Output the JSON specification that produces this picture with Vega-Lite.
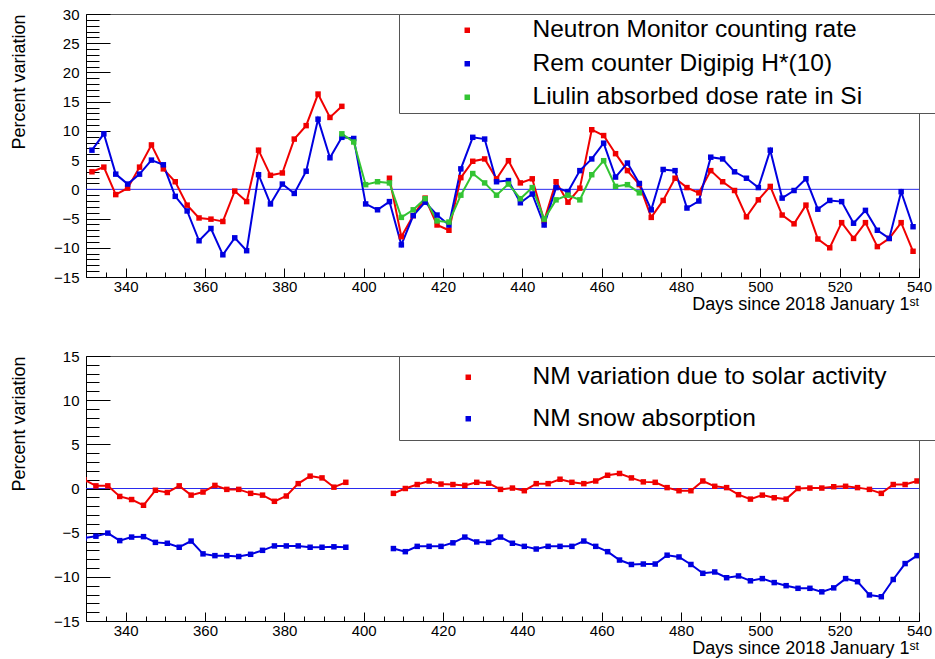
{
  "$schema": "https://vega.github.io/schema/vega-lite/v6.json",
  "background": "white",
  "padding": {"left": 10, "top": 6, "right": 5, "bottom": 5},
  "autosize": {"type": "pad"},
  "spacing": 79,
  "bounds": "flush",
  "resolve": {"scale": {"color": "independent", "stroke": "independent"}, "legend": {"color": "independent", "stroke": "independent"}},
  "config": {
    "font": "Liberation Sans",
    "view": {"stroke": "#555555", "strokeWidth": 1},
    "axis": {"grid": false, "domainColor": "#000000", "tickColor": "#000000", "labelColor": "#000000", "titleColor": "#000000", "labelFontSize": 15, "titleFontSize": 18, "titleFontWeight": "normal", "labelFont": "Liberation Sans", "titleFont": "Liberation Sans", "labelOverlap": false, "labelFlush": false}
  },
  "datasets": {
    "top": [
      {"day":331.5,"series":"Neutron Monitor counting rate","part":1,"value":3.0},
      {"day":334.5,"series":"Neutron Monitor counting rate","part":1,"value":3.8},
      {"day":337.5,"series":"Neutron Monitor counting rate","part":1,"value":-0.9},
      {"day":340.5,"series":"Neutron Monitor counting rate","part":1,"value":0.2},
      {"day":343.5,"series":"Neutron Monitor counting rate","part":1,"value":3.8},
      {"day":346.5,"series":"Neutron Monitor counting rate","part":1,"value":7.6},
      {"day":349.5,"series":"Neutron Monitor counting rate","part":1,"value":3.5},
      {"day":352.5,"series":"Neutron Monitor counting rate","part":1,"value":1.3},
      {"day":355.5,"series":"Neutron Monitor counting rate","part":1,"value":-2.7},
      {"day":358.5,"series":"Neutron Monitor counting rate","part":1,"value":-4.9},
      {"day":361.5,"series":"Neutron Monitor counting rate","part":1,"value":-5.1},
      {"day":364.5,"series":"Neutron Monitor counting rate","part":1,"value":-5.5},
      {"day":367.5,"series":"Neutron Monitor counting rate","part":1,"value":-0.3},
      {"day":370.5,"series":"Neutron Monitor counting rate","part":1,"value":-2.1},
      {"day":373.5,"series":"Neutron Monitor counting rate","part":1,"value":6.7},
      {"day":376.5,"series":"Neutron Monitor counting rate","part":1,"value":2.4},
      {"day":379.5,"series":"Neutron Monitor counting rate","part":1,"value":2.8},
      {"day":382.5,"series":"Neutron Monitor counting rate","part":1,"value":8.6},
      {"day":385.5,"series":"Neutron Monitor counting rate","part":1,"value":10.9},
      {"day":388.5,"series":"Neutron Monitor counting rate","part":1,"value":16.3},
      {"day":391.5,"series":"Neutron Monitor counting rate","part":1,"value":12.3},
      {"day":394.5,"series":"Neutron Monitor counting rate","part":1,"value":14.2},
      {"day":406.5,"series":"Neutron Monitor counting rate","part":2,"value":1.9},
      {"day":409.5,"series":"Neutron Monitor counting rate","part":2,"value":-8.1},
      {"day":412.5,"series":"Neutron Monitor counting rate","part":2,"value":-4.5},
      {"day":415.5,"series":"Neutron Monitor counting rate","part":2,"value":-1.5},
      {"day":418.5,"series":"Neutron Monitor counting rate","part":2,"value":-6.1},
      {"day":421.5,"series":"Neutron Monitor counting rate","part":2,"value":-7.0},
      {"day":424.5,"series":"Neutron Monitor counting rate","part":2,"value":2.0},
      {"day":427.5,"series":"Neutron Monitor counting rate","part":2,"value":4.8},
      {"day":430.5,"series":"Neutron Monitor counting rate","part":2,"value":5.2},
      {"day":433.5,"series":"Neutron Monitor counting rate","part":2,"value":1.8},
      {"day":436.5,"series":"Neutron Monitor counting rate","part":2,"value":4.9},
      {"day":439.5,"series":"Neutron Monitor counting rate","part":2,"value":1.1},
      {"day":442.5,"series":"Neutron Monitor counting rate","part":2,"value":1.8},
      {"day":445.5,"series":"Neutron Monitor counting rate","part":2,"value":-5.4},
      {"day":448.5,"series":"Neutron Monitor counting rate","part":2,"value":1.3},
      {"day":451.5,"series":"Neutron Monitor counting rate","part":2,"value":-2.2},
      {"day":454.5,"series":"Neutron Monitor counting rate","part":2,"value":0.2},
      {"day":457.5,"series":"Neutron Monitor counting rate","part":2,"value":10.2},
      {"day":460.5,"series":"Neutron Monitor counting rate","part":2,"value":9.2},
      {"day":463.5,"series":"Neutron Monitor counting rate","part":2,"value":6.1},
      {"day":466.5,"series":"Neutron Monitor counting rate","part":2,"value":3.2},
      {"day":469.5,"series":"Neutron Monitor counting rate","part":2,"value":0.8},
      {"day":472.5,"series":"Neutron Monitor counting rate","part":2,"value":-4.8},
      {"day":475.5,"series":"Neutron Monitor counting rate","part":2,"value":-1.9},
      {"day":478.5,"series":"Neutron Monitor counting rate","part":2,"value":1.9},
      {"day":481.5,"series":"Neutron Monitor counting rate","part":2,"value":0.3},
      {"day":484.5,"series":"Neutron Monitor counting rate","part":2,"value":-0.6},
      {"day":487.5,"series":"Neutron Monitor counting rate","part":2,"value":3.2},
      {"day":490.5,"series":"Neutron Monitor counting rate","part":2,"value":1.3},
      {"day":493.5,"series":"Neutron Monitor counting rate","part":2,"value":-0.2},
      {"day":496.5,"series":"Neutron Monitor counting rate","part":2,"value":-4.7},
      {"day":499.5,"series":"Neutron Monitor counting rate","part":2,"value":-1.8},
      {"day":502.5,"series":"Neutron Monitor counting rate","part":2,"value":0.5},
      {"day":505.5,"series":"Neutron Monitor counting rate","part":2,"value":-4.4},
      {"day":508.5,"series":"Neutron Monitor counting rate","part":2,"value":-5.9},
      {"day":511.5,"series":"Neutron Monitor counting rate","part":2,"value":-2.7},
      {"day":514.5,"series":"Neutron Monitor counting rate","part":2,"value":-8.5},
      {"day":517.5,"series":"Neutron Monitor counting rate","part":2,"value":-10.0},
      {"day":520.5,"series":"Neutron Monitor counting rate","part":2,"value":-5.7},
      {"day":523.5,"series":"Neutron Monitor counting rate","part":2,"value":-8.4},
      {"day":526.5,"series":"Neutron Monitor counting rate","part":2,"value":-5.7},
      {"day":529.5,"series":"Neutron Monitor counting rate","part":2,"value":-9.8},
      {"day":532.5,"series":"Neutron Monitor counting rate","part":2,"value":-8.4},
      {"day":535.5,"series":"Neutron Monitor counting rate","part":2,"value":-5.7},
      {"day":538.5,"series":"Neutron Monitor counting rate","part":2,"value":-10.6},
      {"day":331.5,"series":"Rem counter Digipig H*(10)","part":1,"value":6.7},
      {"day":334.5,"series":"Rem counter Digipig H*(10)","part":1,"value":9.5},
      {"day":337.5,"series":"Rem counter Digipig H*(10)","part":1,"value":2.6},
      {"day":340.5,"series":"Rem counter Digipig H*(10)","part":1,"value":0.9},
      {"day":343.5,"series":"Rem counter Digipig H*(10)","part":1,"value":2.6},
      {"day":346.5,"series":"Rem counter Digipig H*(10)","part":1,"value":5.0},
      {"day":349.5,"series":"Rem counter Digipig H*(10)","part":1,"value":4.2},
      {"day":352.5,"series":"Rem counter Digipig H*(10)","part":1,"value":-1.2},
      {"day":355.5,"series":"Rem counter Digipig H*(10)","part":1,"value":-3.7},
      {"day":358.5,"series":"Rem counter Digipig H*(10)","part":1,"value":-8.8},
      {"day":361.5,"series":"Rem counter Digipig H*(10)","part":1,"value":-6.7},
      {"day":364.5,"series":"Rem counter Digipig H*(10)","part":1,"value":-11.2},
      {"day":367.5,"series":"Rem counter Digipig H*(10)","part":1,"value":-8.3},
      {"day":370.5,"series":"Rem counter Digipig H*(10)","part":1,"value":-10.5},
      {"day":373.5,"series":"Rem counter Digipig H*(10)","part":1,"value":2.5},
      {"day":376.5,"series":"Rem counter Digipig H*(10)","part":1,"value":-2.5},
      {"day":379.5,"series":"Rem counter Digipig H*(10)","part":1,"value":0.9},
      {"day":382.5,"series":"Rem counter Digipig H*(10)","part":1,"value":-0.7},
      {"day":385.5,"series":"Rem counter Digipig H*(10)","part":1,"value":3.1},
      {"day":388.5,"series":"Rem counter Digipig H*(10)","part":1,"value":12.0},
      {"day":391.5,"series":"Rem counter Digipig H*(10)","part":1,"value":5.4},
      {"day":394.5,"series":"Rem counter Digipig H*(10)","part":1,"value":8.9},
      {"day":397.5,"series":"Rem counter Digipig H*(10)","part":1,"value":8.7},
      {"day":400.5,"series":"Rem counter Digipig H*(10)","part":1,"value":-2.5},
      {"day":403.5,"series":"Rem counter Digipig H*(10)","part":1,"value":-3.5},
      {"day":406.5,"series":"Rem counter Digipig H*(10)","part":1,"value":-2.1},
      {"day":409.5,"series":"Rem counter Digipig H*(10)","part":1,"value":-9.5},
      {"day":412.5,"series":"Rem counter Digipig H*(10)","part":1,"value":-4.5},
      {"day":415.5,"series":"Rem counter Digipig H*(10)","part":1,"value":-2.2},
      {"day":418.5,"series":"Rem counter Digipig H*(10)","part":1,"value":-4.4},
      {"day":421.5,"series":"Rem counter Digipig H*(10)","part":1,"value":-6.1},
      {"day":424.5,"series":"Rem counter Digipig H*(10)","part":1,"value":3.5},
      {"day":427.5,"series":"Rem counter Digipig H*(10)","part":1,"value":8.9},
      {"day":430.5,"series":"Rem counter Digipig H*(10)","part":1,"value":8.6},
      {"day":433.5,"series":"Rem counter Digipig H*(10)","part":1,"value":1.3},
      {"day":436.5,"series":"Rem counter Digipig H*(10)","part":1,"value":1.5},
      {"day":439.5,"series":"Rem counter Digipig H*(10)","part":1,"value":-2.3},
      {"day":442.5,"series":"Rem counter Digipig H*(10)","part":1,"value":-0.8},
      {"day":445.5,"series":"Rem counter Digipig H*(10)","part":1,"value":-6.1},
      {"day":448.5,"series":"Rem counter Digipig H*(10)","part":1,"value":0.3},
      {"day":451.5,"series":"Rem counter Digipig H*(10)","part":1,"value":-0.4},
      {"day":454.5,"series":"Rem counter Digipig H*(10)","part":1,"value":3.2},
      {"day":457.5,"series":"Rem counter Digipig H*(10)","part":1,"value":5.2},
      {"day":460.5,"series":"Rem counter Digipig H*(10)","part":1,"value":7.9},
      {"day":463.5,"series":"Rem counter Digipig H*(10)","part":1,"value":2.1},
      {"day":466.5,"series":"Rem counter Digipig H*(10)","part":1,"value":4.5},
      {"day":469.5,"series":"Rem counter Digipig H*(10)","part":1,"value":1.0},
      {"day":472.5,"series":"Rem counter Digipig H*(10)","part":1,"value":-3.5},
      {"day":475.5,"series":"Rem counter Digipig H*(10)","part":1,"value":3.4},
      {"day":478.5,"series":"Rem counter Digipig H*(10)","part":1,"value":3.2},
      {"day":481.5,"series":"Rem counter Digipig H*(10)","part":1,"value":-3.2},
      {"day":484.5,"series":"Rem counter Digipig H*(10)","part":1,"value":-2.0},
      {"day":487.5,"series":"Rem counter Digipig H*(10)","part":1,"value":5.5},
      {"day":490.5,"series":"Rem counter Digipig H*(10)","part":1,"value":5.2},
      {"day":493.5,"series":"Rem counter Digipig H*(10)","part":1,"value":3.0},
      {"day":496.5,"series":"Rem counter Digipig H*(10)","part":1,"value":1.9},
      {"day":499.5,"series":"Rem counter Digipig H*(10)","part":1,"value":0.3},
      {"day":502.5,"series":"Rem counter Digipig H*(10)","part":1,"value":6.7},
      {"day":505.5,"series":"Rem counter Digipig H*(10)","part":1,"value":-1.5},
      {"day":508.5,"series":"Rem counter Digipig H*(10)","part":1,"value":-0.2},
      {"day":511.5,"series":"Rem counter Digipig H*(10)","part":1,"value":1.8},
      {"day":514.5,"series":"Rem counter Digipig H*(10)","part":1,"value":-3.4},
      {"day":517.5,"series":"Rem counter Digipig H*(10)","part":1,"value":-1.9},
      {"day":520.5,"series":"Rem counter Digipig H*(10)","part":1,"value":-2.1},
      {"day":523.5,"series":"Rem counter Digipig H*(10)","part":1,"value":-5.8},
      {"day":526.5,"series":"Rem counter Digipig H*(10)","part":1,"value":-3.6},
      {"day":529.5,"series":"Rem counter Digipig H*(10)","part":1,"value":-7.0},
      {"day":532.5,"series":"Rem counter Digipig H*(10)","part":1,"value":-8.4},
      {"day":535.5,"series":"Rem counter Digipig H*(10)","part":1,"value":-0.4},
      {"day":538.5,"series":"Rem counter Digipig H*(10)","part":1,"value":-6.4},
      {"day":394.5,"series":"Liulin absorbed dose rate in Si","part":1,"value":9.5},
      {"day":397.5,"series":"Liulin absorbed dose rate in Si","part":1,"value":8.1},
      {"day":400.5,"series":"Liulin absorbed dose rate in Si","part":1,"value":0.8},
      {"day":403.5,"series":"Liulin absorbed dose rate in Si","part":1,"value":1.3},
      {"day":406.5,"series":"Liulin absorbed dose rate in Si","part":1,"value":1.1},
      {"day":409.5,"series":"Liulin absorbed dose rate in Si","part":1,"value":-4.8},
      {"day":412.5,"series":"Liulin absorbed dose rate in Si","part":1,"value":-3.5},
      {"day":415.5,"series":"Liulin absorbed dose rate in Si","part":1,"value":-1.6},
      {"day":418.5,"series":"Liulin absorbed dose rate in Si","part":1,"value":-5.4},
      {"day":421.5,"series":"Liulin absorbed dose rate in Si","part":1,"value":-5.6},
      {"day":424.5,"series":"Liulin absorbed dose rate in Si","part":1,"value":-1.0},
      {"day":427.5,"series":"Liulin absorbed dose rate in Si","part":1,"value":2.7},
      {"day":430.5,"series":"Liulin absorbed dose rate in Si","part":1,"value":1.1},
      {"day":433.5,"series":"Liulin absorbed dose rate in Si","part":1,"value":-1.0},
      {"day":436.5,"series":"Liulin absorbed dose rate in Si","part":1,"value":0.9},
      {"day":439.5,"series":"Liulin absorbed dose rate in Si","part":1,"value":-1.6},
      {"day":442.5,"series":"Liulin absorbed dose rate in Si","part":1,"value":0.3},
      {"day":445.5,"series":"Liulin absorbed dose rate in Si","part":1,"value":-5.1},
      {"day":448.5,"series":"Liulin absorbed dose rate in Si","part":1,"value":-1.8},
      {"day":451.5,"series":"Liulin absorbed dose rate in Si","part":1,"value":-1.0},
      {"day":454.5,"series":"Liulin absorbed dose rate in Si","part":1,"value":-1.8},
      {"day":457.5,"series":"Liulin absorbed dose rate in Si","part":1,"value":2.5},
      {"day":460.5,"series":"Liulin absorbed dose rate in Si","part":1,"value":4.9},
      {"day":463.5,"series":"Liulin absorbed dose rate in Si","part":1,"value":0.5},
      {"day":466.5,"series":"Liulin absorbed dose rate in Si","part":1,"value":0.8},
      {"day":469.5,"series":"Liulin absorbed dose rate in Si","part":1,"value":-0.6}
    ],
    "bottom": [
      {"day":329.5,"series":"NM variation due to solar activity","part":1,"value":1.0},
      {"day":332.5,"series":"NM variation due to solar activity","part":1,"value":0.3},
      {"day":335.5,"series":"NM variation due to solar activity","part":1,"value":0.3},
      {"day":338.5,"series":"NM variation due to solar activity","part":1,"value":-0.9},
      {"day":341.5,"series":"NM variation due to solar activity","part":1,"value":-1.25},
      {"day":344.5,"series":"NM variation due to solar activity","part":1,"value":-1.9},
      {"day":347.5,"series":"NM variation due to solar activity","part":1,"value":-0.2},
      {"day":350.5,"series":"NM variation due to solar activity","part":1,"value":-0.45},
      {"day":353.5,"series":"NM variation due to solar activity","part":1,"value":0.3},
      {"day":356.5,"series":"NM variation due to solar activity","part":1,"value":-0.75},
      {"day":359.5,"series":"NM variation due to solar activity","part":1,"value":-0.4},
      {"day":362.5,"series":"NM variation due to solar activity","part":1,"value":0.35},
      {"day":365.5,"series":"NM variation due to solar activity","part":1,"value":-0.1},
      {"day":368.5,"series":"NM variation due to solar activity","part":1,"value":-0.1},
      {"day":371.5,"series":"NM variation due to solar activity","part":1,"value":-0.55},
      {"day":374.5,"series":"NM variation due to solar activity","part":1,"value":-0.75},
      {"day":377.5,"series":"NM variation due to solar activity","part":1,"value":-1.45},
      {"day":380.5,"series":"NM variation due to solar activity","part":1,"value":-0.85},
      {"day":383.5,"series":"NM variation due to solar activity","part":1,"value":0.55},
      {"day":386.5,"series":"NM variation due to solar activity","part":1,"value":1.4},
      {"day":389.5,"series":"NM variation due to solar activity","part":1,"value":1.2},
      {"day":392.5,"series":"NM variation due to solar activity","part":1,"value":0.15},
      {"day":395.5,"series":"NM variation due to solar activity","part":1,"value":0.7},
      {"day":407.5,"series":"NM variation due to solar activity","part":2,"value":-0.55},
      {"day":410.5,"series":"NM variation due to solar activity","part":2,"value":0.0},
      {"day":413.5,"series":"NM variation due to solar activity","part":2,"value":0.45},
      {"day":416.5,"series":"NM variation due to solar activity","part":2,"value":0.85},
      {"day":419.5,"series":"NM variation due to solar activity","part":2,"value":0.5},
      {"day":422.5,"series":"NM variation due to solar activity","part":2,"value":0.45},
      {"day":425.5,"series":"NM variation due to solar activity","part":2,"value":0.35},
      {"day":428.5,"series":"NM variation due to solar activity","part":2,"value":0.7},
      {"day":431.5,"series":"NM variation due to solar activity","part":2,"value":0.6},
      {"day":434.5,"series":"NM variation due to solar activity","part":2,"value":-0.1},
      {"day":437.5,"series":"NM variation due to solar activity","part":2,"value":0.05},
      {"day":440.5,"series":"NM variation due to solar activity","part":2,"value":-0.25},
      {"day":443.5,"series":"NM variation due to solar activity","part":2,"value":0.55},
      {"day":446.5,"series":"NM variation due to solar activity","part":2,"value":0.55},
      {"day":449.5,"series":"NM variation due to solar activity","part":2,"value":1.05},
      {"day":452.5,"series":"NM variation due to solar activity","part":2,"value":0.7},
      {"day":455.5,"series":"NM variation due to solar activity","part":2,"value":0.55},
      {"day":458.5,"series":"NM variation due to solar activity","part":2,"value":0.85},
      {"day":461.5,"series":"NM variation due to solar activity","part":2,"value":1.5},
      {"day":464.5,"series":"NM variation due to solar activity","part":2,"value":1.7},
      {"day":467.5,"series":"NM variation due to solar activity","part":2,"value":1.2},
      {"day":470.5,"series":"NM variation due to solar activity","part":2,"value":0.75},
      {"day":473.5,"series":"NM variation due to solar activity","part":2,"value":0.7},
      {"day":476.5,"series":"NM variation due to solar activity","part":2,"value":0.1},
      {"day":479.5,"series":"NM variation due to solar activity","part":2,"value":-0.25},
      {"day":482.5,"series":"NM variation due to solar activity","part":2,"value":-0.25},
      {"day":485.5,"series":"NM variation due to solar activity","part":2,"value":0.85},
      {"day":488.5,"series":"NM variation due to solar activity","part":2,"value":0.25},
      {"day":491.5,"series":"NM variation due to solar activity","part":2,"value":0.1},
      {"day":494.5,"series":"NM variation due to solar activity","part":2,"value":-0.7},
      {"day":497.5,"series":"NM variation due to solar activity","part":2,"value":-1.2},
      {"day":500.5,"series":"NM variation due to solar activity","part":2,"value":-0.75},
      {"day":503.5,"series":"NM variation due to solar activity","part":2,"value":-1.05},
      {"day":506.5,"series":"NM variation due to solar activity","part":2,"value":-1.2},
      {"day":509.5,"series":"NM variation due to solar activity","part":2,"value":0.0},
      {"day":512.5,"series":"NM variation due to solar activity","part":2,"value":0.05},
      {"day":515.5,"series":"NM variation due to solar activity","part":2,"value":0.05},
      {"day":518.5,"series":"NM variation due to solar activity","part":2,"value":0.2},
      {"day":521.5,"series":"NM variation due to solar activity","part":2,"value":0.25},
      {"day":524.5,"series":"NM variation due to solar activity","part":2,"value":0.1},
      {"day":527.5,"series":"NM variation due to solar activity","part":2,"value":-0.1},
      {"day":530.5,"series":"NM variation due to solar activity","part":2,"value":-0.55},
      {"day":533.5,"series":"NM variation due to solar activity","part":2,"value":0.45},
      {"day":536.5,"series":"NM variation due to solar activity","part":2,"value":0.45},
      {"day":539.5,"series":"NM variation due to solar activity","part":2,"value":0.85},
      {"day":329.5,"series":"NM snow absorption","part":1,"value":-5.6},
      {"day":332.5,"series":"NM snow absorption","part":1,"value":-5.4},
      {"day":335.5,"series":"NM snow absorption","part":1,"value":-5.05},
      {"day":338.5,"series":"NM snow absorption","part":1,"value":-5.9},
      {"day":341.5,"series":"NM snow absorption","part":1,"value":-5.5},
      {"day":344.5,"series":"NM snow absorption","part":1,"value":-5.45},
      {"day":347.5,"series":"NM snow absorption","part":1,"value":-6.1},
      {"day":350.5,"series":"NM snow absorption","part":1,"value":-6.2},
      {"day":353.5,"series":"NM snow absorption","part":1,"value":-6.65},
      {"day":356.5,"series":"NM snow absorption","part":1,"value":-5.95},
      {"day":359.5,"series":"NM snow absorption","part":1,"value":-7.4},
      {"day":362.5,"series":"NM snow absorption","part":1,"value":-7.6},
      {"day":365.5,"series":"NM snow absorption","part":1,"value":-7.6},
      {"day":368.5,"series":"NM snow absorption","part":1,"value":-7.7},
      {"day":371.5,"series":"NM snow absorption","part":1,"value":-7.45},
      {"day":374.5,"series":"NM snow absorption","part":1,"value":-7.0},
      {"day":377.5,"series":"NM snow absorption","part":1,"value":-6.5},
      {"day":380.5,"series":"NM snow absorption","part":1,"value":-6.5},
      {"day":383.5,"series":"NM snow absorption","part":1,"value":-6.5},
      {"day":386.5,"series":"NM snow absorption","part":1,"value":-6.65},
      {"day":389.5,"series":"NM snow absorption","part":1,"value":-6.65},
      {"day":392.5,"series":"NM snow absorption","part":1,"value":-6.6},
      {"day":395.5,"series":"NM snow absorption","part":1,"value":-6.65},
      {"day":407.5,"series":"NM snow absorption","part":2,"value":-6.8},
      {"day":410.5,"series":"NM snow absorption","part":2,"value":-7.15},
      {"day":413.5,"series":"NM snow absorption","part":2,"value":-6.55},
      {"day":416.5,"series":"NM snow absorption","part":2,"value":-6.55},
      {"day":419.5,"series":"NM snow absorption","part":2,"value":-6.55},
      {"day":422.5,"series":"NM snow absorption","part":2,"value":-6.15},
      {"day":425.5,"series":"NM snow absorption","part":2,"value":-5.5},
      {"day":428.5,"series":"NM snow absorption","part":2,"value":-6.05},
      {"day":431.5,"series":"NM snow absorption","part":2,"value":-6.1},
      {"day":434.5,"series":"NM snow absorption","part":2,"value":-5.5},
      {"day":437.5,"series":"NM snow absorption","part":2,"value":-6.2},
      {"day":440.5,"series":"NM snow absorption","part":2,"value":-6.55},
      {"day":443.5,"series":"NM snow absorption","part":2,"value":-6.85},
      {"day":446.5,"series":"NM snow absorption","part":2,"value":-6.55},
      {"day":449.5,"series":"NM snow absorption","part":2,"value":-6.55},
      {"day":452.5,"series":"NM snow absorption","part":2,"value":-6.55},
      {"day":455.5,"series":"NM snow absorption","part":2,"value":-5.95},
      {"day":458.5,"series":"NM snow absorption","part":2,"value":-6.55},
      {"day":461.5,"series":"NM snow absorption","part":2,"value":-7.15},
      {"day":464.5,"series":"NM snow absorption","part":2,"value":-8.1},
      {"day":467.5,"series":"NM snow absorption","part":2,"value":-8.6},
      {"day":470.5,"series":"NM snow absorption","part":2,"value":-8.55},
      {"day":473.5,"series":"NM snow absorption","part":2,"value":-8.55},
      {"day":476.5,"series":"NM snow absorption","part":2,"value":-7.55},
      {"day":479.5,"series":"NM snow absorption","part":2,"value":-7.75},
      {"day":482.5,"series":"NM snow absorption","part":2,"value":-8.6},
      {"day":485.5,"series":"NM snow absorption","part":2,"value":-9.6},
      {"day":488.5,"series":"NM snow absorption","part":2,"value":-9.45},
      {"day":491.5,"series":"NM snow absorption","part":2,"value":-10.1},
      {"day":494.5,"series":"NM snow absorption","part":2,"value":-9.9},
      {"day":497.5,"series":"NM snow absorption","part":2,"value":-10.45},
      {"day":500.5,"series":"NM snow absorption","part":2,"value":-10.2},
      {"day":503.5,"series":"NM snow absorption","part":2,"value":-10.65},
      {"day":506.5,"series":"NM snow absorption","part":2,"value":-11.0},
      {"day":509.5,"series":"NM snow absorption","part":2,"value":-11.3},
      {"day":512.5,"series":"NM snow absorption","part":2,"value":-11.3},
      {"day":515.5,"series":"NM snow absorption","part":2,"value":-11.7},
      {"day":518.5,"series":"NM snow absorption","part":2,"value":-11.25},
      {"day":521.5,"series":"NM snow absorption","part":2,"value":-10.2},
      {"day":524.5,"series":"NM snow absorption","part":2,"value":-10.55},
      {"day":527.5,"series":"NM snow absorption","part":2,"value":-12.05},
      {"day":530.5,"series":"NM snow absorption","part":2,"value":-12.25},
      {"day":533.5,"series":"NM snow absorption","part":2,"value":-10.3},
      {"day":536.5,"series":"NM snow absorption","part":2,"value":-8.5},
      {"day":539.5,"series":"NM snow absorption","part":2,"value":-7.6}
    ]
  },
  "vconcat": [
    {
      "width": 833,
      "height": 263,
      "resolve": {"axis": {"x": "independent", "y": "independent"}},
      "layer": [
        {
          "data": {"values": [{}]},
          "mark": {"type": "rule", "color": "#2a2aee", "strokeWidth": 1},
          "encoding": {"y": {"datum": 0, "type": "quantitative", "axis": null, "scale": {"domain": [-15, 30], "nice": false, "zero": false}}}
        },
        {
          "data": {"name": "top"},
          "mark": {"type": "line", "strokeWidth": 2, "clip": true},
          "encoding": {
            "x": {"field": "day", "type": "quantitative", "scale": {"domain": [330, 540], "nice": false, "zero": false},
              "axis": {"orient": "bottom", "title": "Days since 2018 January 1ˢᵗ", "titleAnchor": "end", "values": [340,360,380,400,420,440,460,480,500,520,540],
                "tickSize": -9, "labelPadding": 11, "titlePadding": 1, "labelOverlap": false}},
            "y": {"field": "value", "type": "quantitative", "scale": {"domain": [-15, 30], "nice": false, "zero": false},
              "axis": {"orient": "left", "title": "Percent variation", "titleAnchor": "end", "values": [-15,-10,-5,0,5,10,15,20,25,30],
                "tickSize": -24, "labelPadding": 31, "titlePadding": 25, "labelOverlap": false}},
            "stroke": {"field": "series", "type": "nominal", "scale": {"domain": ["Rem counter Digipig H*(10)", "Neutron Monitor counting rate", "Liulin absorbed dose rate in Si"], "range": ["#0000e0", "#f00000", "#33c433"]}, "legend": null},
            "detail": {"field": "part", "type": "nominal"}
          }
        },
        {
          "data": {"name": "top"},
          "mark": {"type": "point", "shape": "square", "filled": true, "size": 30, "opacity": 1, "clip": true},
          "encoding": {
            "x": {"field": "day", "type": "quantitative",
              "axis": {"orient": "bottom", "title": null, "labels": false, "domain": false, "tickSize": -5, "values": [335,345,350,355,365,370,375,385,390,395,405,410,415,425,430,435,445,450,455,465,470,475,485,490,495,505,510,515,525,530,535]}},
            "y": {"field": "value", "type": "quantitative",
              "axis": {"orient": "left", "title": null, "labels": false, "domain": false, "tickSize": -13, "values": [-14,-13,-12,-11,-9,-8,-7,-6,-4,-3,-2,-1,1,2,3,4,6,7,8,9,11,12,13,14,16,17,18,19,21,22,23,24,26,27,28,29]}},
            "color": {"field": "series", "type": "nominal", "scale": {"domain": ["Neutron Monitor counting rate", "Rem counter Digipig H*(10)", "Liulin absorbed dose rate in Si"], "range": ["#f00000", "#0000e0", "#33c433"]},
              "legend": {"orient": "none", "legendX": 313, "legendY": 0, "title": "\u00a0", "titleOrient": "right", "titleFontSize": 1, "titlePadding": 72,
                "padding": 4, "rowPadding": 8.5, "symbolOffset": 52, "labelOffset": 53, "symbolType": "square", "symbolSize": 30,
                "labelFontSize": 24.5, "labelFont": "Liberation Sans", "labelLimit": 700, "labelColor": "#000000", "strokeColor": "#555555", "fillColor": "#ffffff"}}
          }
        }
      ]
    },
    {
      "width": 833,
      "height": 265,
      "resolve": {"axis": {"x": "independent", "y": "independent"}},
      "layer": [
        {
          "data": {"values": [{}]},
          "mark": {"type": "rule", "color": "#2a2aee", "strokeWidth": 1},
          "encoding": {"y": {"datum": 0, "type": "quantitative", "axis": null, "scale": {"domain": [-15, 15], "nice": false, "zero": false}}}
        },
        {
          "data": {"name": "bottom"},
          "mark": {"type": "line", "strokeWidth": 2, "clip": true},
          "encoding": {
            "x": {"field": "day", "type": "quantitative", "scale": {"domain": [330, 540], "nice": false, "zero": false},
              "axis": {"orient": "bottom", "title": "Days since 2018 January 1ˢᵗ", "titleAnchor": "end", "values": [340,360,380,400,420,440,460,480,500,520,540],
                "tickSize": -9, "labelPadding": 11, "titlePadding": 1, "labelOverlap": false}},
            "y": {"field": "value", "type": "quantitative", "scale": {"domain": [-15, 15], "nice": false, "zero": false},
              "axis": {"orient": "left", "title": "Percent variation", "titleAnchor": "end", "values": [-15,-10,-5,0,5,10,15],
                "tickSize": -24, "labelPadding": 31, "titlePadding": 25, "labelOverlap": false}},
            "stroke": {"field": "series", "type": "nominal", "scale": {"domain": ["NM snow absorption", "NM variation due to solar activity"], "range": ["#0000e0", "#f00000"]}, "legend": null},
            "detail": {"field": "part", "type": "nominal"}
          }
        },
        {
          "data": {"name": "bottom"},
          "mark": {"type": "point", "shape": "square", "filled": true, "size": 30, "opacity": 1, "clip": true},
          "encoding": {
            "x": {"field": "day", "type": "quantitative",
              "axis": {"orient": "bottom", "title": null, "labels": false, "domain": false, "tickSize": -5, "values": [335,345,350,355,365,370,375,385,390,395,405,410,415,425,430,435,445,450,455,465,470,475,485,490,495,505,510,515,525,530,535]}},
            "y": {"field": "value", "type": "quantitative",
              "axis": {"orient": "left", "title": null, "labels": false, "domain": false, "tickSize": -13, "values": [-14,-13,-12,-11,-9,-8,-7,-6,-4,-3,-2,-1,1,2,3,4,6,7,8,9,11,12,13,14]}},
            "color": {"field": "series", "type": "nominal", "scale": {"domain": ["NM variation due to solar activity", "NM snow absorption"], "range": ["#f00000", "#0000e0"]},
              "legend": {"orient": "none", "legendX": 313, "legendY": 0, "title": "\u00a0", "titleOrient": "right", "titleFontSize": 1, "titlePadding": 42,
                "padding": 9, "rowPadding": 16.5, "symbolOffset": 48, "labelOffset": 52, "symbolType": "square", "symbolSize": 30,
                "labelFontSize": 24.5, "labelFont": "Liberation Sans", "labelLimit": 700, "labelColor": "#000000", "strokeColor": "#555555", "fillColor": "#ffffff"}}
          }
        }
      ]
    }
  ]
}
